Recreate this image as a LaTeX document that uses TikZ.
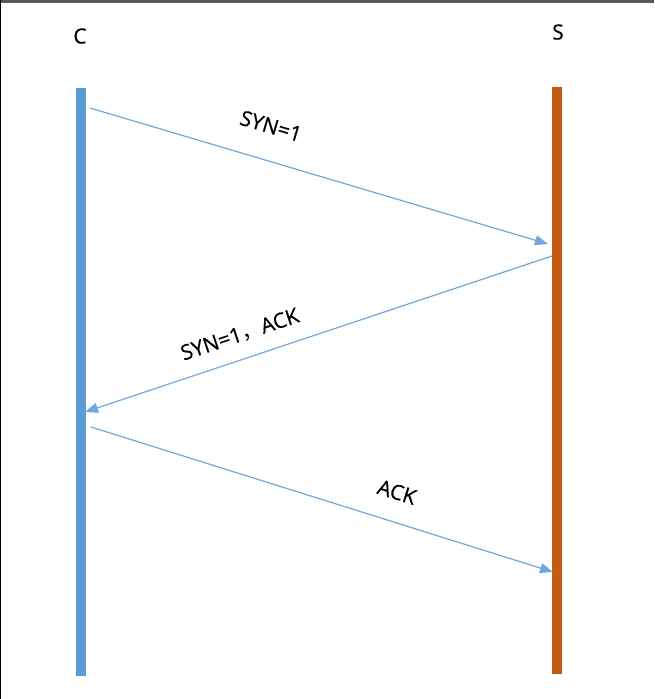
\documentclass[tikz,border=0pt]{standalone}
\usepackage{fontspec}
\setmainfont{Open Sans}[FakeBold=0.6]
\newfontfamily\cjk{Noto Sans CJK SC}
\usepackage{tikz}
\usetikzlibrary{arrows.meta}
\definecolor{clientblue}{HTML}{5B9BD5}
\definecolor{serverorange}{HTML}{C55A11}
\definecolor{msgblue}{HTML}{6FA8DC}

\begin{document}
\begin{tikzpicture}[x=1pt,y=-1pt,
    lifeline/.style={line width=10pt},
    msg/.style={draw=msgblue,line width=1.2pt,-{Triangle[length=13pt,width=10pt]}},
    lbl/.style={font=\fontsize{21}{23}\selectfont,inner sep=0pt}]
  \useasboundingbox (0,0) rectangle (654,699);
  \fill[black!65] (0,0) rectangle (654,3);
  \draw[black,line width=1pt] (0.5,0) -- (0.5,699);
  \node[lbl] (c) at (80,36) {C};
  \node[lbl] (s) at (558,32) {S};
  \coordinate (ctop) at (80.5,88);
  \coordinate (cbot) at (80.5,676);
  \coordinate (stop) at (556.5,87);
  \coordinate (sbot) at (556.5,674);
  \draw[lifeline,clientblue] (ctop) -- (cbot);
  \draw[lifeline,serverorange] (stop) -- (sbot);
  % handshake
  \coordinate (c1) at (90,108);
  \coordinate (s1) at (548,244);
  \coordinate (s2) at (552,256);
  \coordinate (c2) at (85,412);
  \coordinate (c3) at (91,427);
  \coordinate (s3) at (553,572);
  \draw[msg] (c1) -- (s1);
  \draw[msg] (s2) -- (c2);
  \draw[msg] (c3) -- (s3);
  \node[lbl,rotate=-16.5] (syn) at (271,126) {SYN=1};
  \node[lbl,rotate=18.5] (synack) at (240,335) {SYN=1{\cjk ，}ACK};
  \node[lbl,rotate=-17.5] (ack) at (397,492) {ACK};
\end{tikzpicture}
\end{document}
